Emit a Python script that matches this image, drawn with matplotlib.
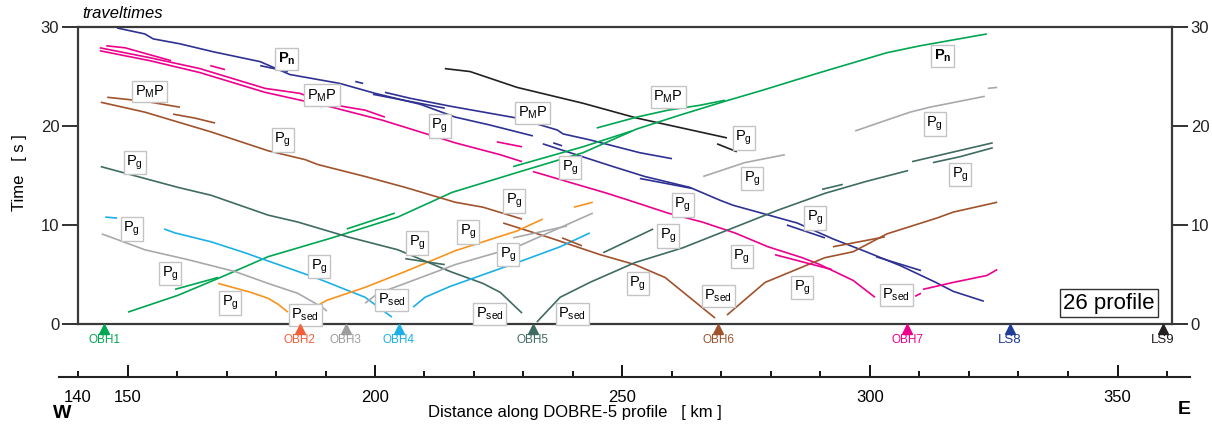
import matplotlib
matplotlib.use("Agg")
import matplotlib.pyplot as plt

plt.rcParams['font.family'] = ['Liberation Sans', 'DejaVu Sans']
plt.rcParams['mathtext.default'] = 'regular'

# ---- travel-time picks (distance km, time s) ----
ls8_pn = [(147.9, 29.9), (153.5, 29.3), (155.2, 28.8), (160.6, 28.3), (167.3, 27.5), (176.8, 26.5),
          (182.8, 25.2), (192.9, 24.3), (200.0, 23.3), (209.1, 22.2), (216.2, 20.9), (223.2, 20.1),
          (231.9, 19.0)]
ls8_pmp = [(202.0, 23.4), (207.1, 22.8), (215.2, 22.0), (228.7, 20.8), (236.8, 19.6), (238.0, 19.2),
           (243.4, 18.6), (253.5, 17.3), (260.0, 16.7)]
ls8_pg = [(233.9, 18.2), (238.8, 17.4), (248.1, 15.9), (254.5, 14.9), (263.6, 13.8), (269.7, 12.5),
          (272.3, 12.0), (285.3, 10.2), (292.5, 8.6), (299.2, 7.3), (306.1, 5.9), (313.3, 4.2),
          (316.8, 3.3), (323.0, 2.3)]
ls8_seg = [
    [(176.8, 26.1), (182.4, 25.5)],
    [(196.0, 24.5), (197.6, 24.3)],
    [(199.6, 23.2), (214.1, 21.8)],
    [(236.0, 18.3), (237.8, 18.0)],
    [(253.5, 14.7), (264.0, 13.7)],
    [(283.2, 10.0), (290.9, 8.7)],
    [(301.2, 6.8), (310.3, 5.4)],
]

ls9_pg = [(214.1, 25.8), (219.2, 25.5), (228.7, 23.9), (242.0, 22.3), (252.9, 20.8), (271.1, 18.8)]
ls9_seg = [(269.1, 18.2), (273.1, 17.4)]

obh1_main = [(150.1, 1.2), (160.2, 2.9), (168.3, 4.6), (178.4, 6.8), (191.3, 8.7), (204.6, 10.8),
             (215.6, 13.3), (228.7, 15.3), (242.0, 17.3), (252.9, 19.7), (261.6, 21.1), (270.7, 22.5),
             (278.2, 23.6), (289.9, 25.4), (303.4, 27.4), (310.1, 28.1), (323.6, 29.3)]
obh1_pmp = [(244.8, 19.8), (252.9, 20.9), (259.2, 21.6), (265.7, 22.1), (270.7, 22.6)]
obh1_seg = [
    [(159.6, 3.5), (168.3, 4.7)],
    [(194.3, 9.6), (204.0, 11.2)],
    [(227.9, 15.9), (242.0, 17.9), (251.9, 19.5)],
]

obh7_top = [(145.7, 28.1), (149.5, 27.9), (158.8, 26.6)]
obh7_pmp = [(144.4, 27.9), (154.5, 26.9), (164.6, 25.8), (177.8, 23.8), (184.8, 23.3), (190.9, 22.2),
            (198.0, 21.6), (202.0, 20.9)]
obh7_far = [(144.4, 27.6), (154.5, 26.6), (164.6, 25.4), (177.8, 23.4), (191.3, 21.9), (201.4, 20.6),
            (216.2, 18.3), (225.3, 17.1), (229.7, 16.4)]
obh7_west = [(231.9, 15.4), (239.4, 14.3), (246.9, 13.2), (252.5, 12.3), (259.2, 11.2), (266.1, 10.3),
             (272.7, 9.2), (279.4, 7.8), (286.3, 6.7), (289.9, 6.0), (296.6, 4.4), (301.0, 2.7)]
obh7_east = [(310.7, 3.5), (316.8, 4.2), (323.6, 4.9), (325.7, 5.5)]
obh7_seg = [
    [(166.7, 26.1), (169.7, 25.7)],
    [(224.6, 18.4), (229.7, 17.9)],
    [(280.8, 7.0), (292.3, 5.5)],
    [(309.1, 2.8), (310.3, 3.1)],
]

obh6_pmp = [(145.9, 22.9), (153.5, 22.5), (160.6, 21.9)]
obh6_pmp2 = [(159.2, 21.2), (163.6, 20.8), (167.7, 20.3)]
obh6_far = [(144.6, 22.4), (153.5, 21.4), (160.2, 20.4), (166.9, 19.4), (178.4, 17.5), (185.9, 16.6),
            (188.5, 16.1), (198.0, 14.9), (206.1, 13.8), (216.2, 12.3), (221.8, 11.8), (229.7, 10.6)]
obh6_west = [(225.9, 10.2), (235.4, 8.7), (245.5, 7.0), (252.5, 6.0), (258.6, 4.7), (268.7, 0.6)]
obh6_east = [(271.1, 0.9), (278.8, 4.2), (290.9, 6.7), (296.6, 7.3), (303.4, 9.1), (313.5, 10.7),
             (316.8, 11.3), (325.7, 12.3)]
obh6_seg = [
    [(237.8, 8.7), (241.8, 7.9)],
    [(292.5, 7.8), (303.0, 8.8)],
]

obh5_west = [(144.6, 15.9), (153.5, 14.7), (160.2, 13.8), (166.9, 13.0), (178.4, 11.0), (184.4, 10.3),
             (194.5, 8.8), (204.6, 7.5), (215.2, 5.3), (221.8, 4.1), (225.3, 3.2), (229.7, 1.1)]
obh5_east = [(232.7, 0.2), (237.4, 2.7), (243.4, 4.2), (252.5, 6.2), (262.2, 7.7), (272.3, 9.7),
             (281.4, 11.5), (290.9, 13.2), (299.2, 14.4), (307.7, 15.5)]
obh5_seg = [
    [(206.1, 6.6), (214.1, 6.0)],
    [(246.1, 7.2), (256.2, 9.6)],
    [(290.3, 13.6), (294.5, 14.1)],
    [(308.5, 16.4), (316.2, 17.3), (324.8, 18.3)],
    [(312.7, 16.3), (318.2, 16.9), (324.8, 17.8)],
]

obh4_west = [(157.4, 9.6), (159.6, 9.2), (166.9, 8.3), (173.7, 7.2), (178.2, 6.4), (187.9, 4.7),
             (198.0, 2.7), (203.4, 0.7)]
obh4_east = [(207.7, 1.7), (210.1, 2.7), (215.2, 3.8), (228.7, 6.2), (237.4, 7.8), (243.4, 9.2)]
obh4_seg = [(145.5, 10.8), (147.9, 10.7)]

obh3_west = [(144.8, 9.1), (148.1, 8.5), (153.5, 7.5), (162.2, 6.5), (171.7, 5.3), (178.4, 4.1),
             (184.4, 3.1), (189.3, 1.7), (190.3, 1.3)]
obh3_east = [(198.0, 2.1), (200.6, 3.1), (206.1, 4.1), (216.2, 6.0), (228.7, 7.8), (244.0, 11.2)]
obh3_seg = [
    [(227.9, 8.7), (238.8, 9.9)],
    [(266.3, 14.9), (274.7, 16.3), (282.8, 17.1)],
    [(297.0, 19.5), (303.4, 20.6), (308.1, 21.4), (312.1, 21.9), (323.2, 23.0)],
    [(323.8, 23.8), (325.7, 23.9)],
]

obh2_west = [(168.3, 4.1), (174.9, 3.2), (178.4, 2.6), (180.4, 2.0), (182.4, 1.2)]
obh2_east = [(188.5, 1.9), (190.3, 2.4), (198.0, 3.7), (206.1, 5.3), (216.2, 7.4), (228.7, 9.4),
             (233.9, 10.6)]
obh2_seg = [(240.2, 11.8), (244.0, 12.3)]

# ---- stations ----
station_names = ['OBH1', 'OBH2', 'OBH3', 'OBH4', 'OBH5', 'OBH6', 'OBH7', 'LS8', 'LS9']
station_km = [145.3, 184.8, 194.1, 204.8, 231.9, 269.3, 307.5, 328.3, 359.2]

# ---- phase labels (text, km, s) ----
phase_labels = [
    ('Pn', 182.2, 26.8), ('Pn', 314.7, 27.1),
    ('PMP', 154.5, 23.5), ('PMP', 189.3, 23.1), ('PMP', 231.9, 21.3), ('PMP', 259.2, 22.9),
    ('Pg', 181.4, 18.6), ('Pg', 151.5, 16.3), ('Pg', 213.1, 20.0), ('Pg', 239.4, 15.8),
    ('Pg', 274.5, 18.8), ('Pg', 276.2, 14.7), ('Pg', 313.1, 20.2), ('Pg', 318.2, 15.1),
    ('Pg', 150.9, 9.6), ('Pg', 158.6, 5.1), ('Pg', 170.7, 2.1), ('Pg', 188.7, 5.8),
    ('Pg', 208.5, 8.2), ('Pg', 218.8, 9.3), ('Pg', 228.1, 12.4), ('Pg', 226.9, 7.0),
    ('Pg', 259.2, 8.9), ('Pg', 262.2, 12.0), ('Pg', 253.1, 4.1), ('Pg', 274.1, 6.8),
    ('Pg', 288.9, 10.7), ('Pg', 286.3, 3.7),
    ('Psed', 185.9, 0.9), ('Psed', 203.4, 2.4), ('Psed', 223.2, 1.0), ('Psed', 239.8, 1.0),
    ('Psed', 269.3, 2.8), ('Psed', 305.3, 2.9),
]

NAVY = '#2e3192'
BLACK = '#231f20'
GREEN = '#00a651'
PINK = '#ec008c'
BROWN = '#a0522d'
TEAL = '#3f6b63'
CYAN = '#1cb0e6'
GRAY = '#a7a9ac'
ORANGE = '#f7941d'
station_colors = [GREEN, '#f2603a', '#9d9d9d', CYAN, TEAL, BROWN, PINK, '#1f3c99', BLACK]

label_text = {
    'Pn': r'P$_\mathregular{n}$',
    'Pg': r'P$_\mathregular{g}$',
    'Psed': r'P$_\mathregular{sed}$',
    'PMP': r'P$_\mathregular{M}$P',
}

fig = plt.figure(figsize=(12.12, 4.29), dpi=100)
ax = fig.add_axes([78 / 1212, 105 / 429, 1094 / 1212, 297 / 429])

curves = [
    (ls8_pn, NAVY), (ls8_pmp, NAVY), (ls8_pg, NAVY),
    (ls9_pg, BLACK), (ls9_seg, BLACK),
    (obh1_main, GREEN), (obh1_pmp, GREEN),
    (obh7_top, PINK), (obh7_pmp, PINK), (obh7_far, PINK), (obh7_west, PINK), (obh7_east, PINK),
    (obh6_pmp, BROWN), (obh6_pmp2, BROWN), (obh6_far, BROWN), (obh6_west, BROWN), (obh6_east, BROWN),
    (obh5_west, TEAL), (obh5_east, TEAL),
    (obh4_west, CYAN), (obh4_east, CYAN), (obh4_seg, CYAN),
    (obh3_west, GRAY), (obh3_east, GRAY),
    (obh2_west, ORANGE), (obh2_east, ORANGE), (obh2_seg, ORANGE),
]
for segs, col in [(ls8_seg, NAVY), (obh1_seg, GREEN), (obh7_seg, PINK), (obh6_seg, BROWN),
                  (obh5_seg, TEAL), (obh3_seg, GRAY)]:
    for s in segs:
        curves.append((s, col))

for pts, col in curves:
    xs, ys = zip(*pts)
    ax.plot(xs, ys, color=col, lw=1.2, solid_capstyle='butt', zorder=2)

for name, x, y in phase_labels:
    ax.text(x, y, label_text[name], fontsize=10.5, ha='center', va='center', zorder=5,
            fontweight='bold' if name == 'Pn' else 'normal',
            bbox=dict(boxstyle='square,pad=0.18', fc='white', ec='#c4c4c4', lw=1.0))

ax.text(348.3, 2.1, '26 profile', fontsize=16, ha='center', va='center', zorder=6,
        bbox=dict(boxstyle='square,pad=0.15', fc='white', ec='#333333', lw=1.0))

for name, km, col in zip(station_names, station_km, station_colors):
    ax.plot([km], [-0.5], marker='^', ms=7, color=col, mec=col, clip_on=False, zorder=6)
    ax.text(km, -1.65, name, color=col, fontsize=8.5 if name.startswith('OBH') else 9.5,
            ha='center', va='center', clip_on=False)

ax.set_xlim(140, 140 + 1094 / 4.95)
ax.set_ylim(0, 30)
ax.set_xticks([])
ax.set_yticks([0, 10, 20, 30])
ax.tick_params(axis='y', direction='out', length=11.5, width=1.3, pad=2, labelsize=12,
               right=True, labelright=True, colors='#222222')
for sp in ax.spines.values():
    sp.set_linewidth(1.6)
    sp.set_color('#3a3a3a')

# distance scale below the section
ax2 = fig.add_axes([59 / 1212, 52 / 429, 1131 / 1212, 0.001])
ax2.set_xlim(140 - 19 / 4.95, 140 + 1112 / 4.95)
for side in ['top', 'left', 'right']:
    ax2.spines[side].set_visible(False)
ax2.spines['bottom'].set_linewidth(1.5)
ax2.spines['bottom'].set_color('#222222')
ax2.set_yticks([])
ax2.set_xticks([150, 200, 250, 300, 350])
minor_km = [k for k in range(140, 361, 10) if k % 50 != 0]
ax2.set_xticks(minor_km, minor=True)
ax2.set_xticklabels(['140'] + [''] * (len(minor_km) - 1), minor=True)
ax2.tick_params(axis='x', which='major', direction='in', length=9, width=1.3, pad=9, labelsize=12)
ax2.tick_params(axis='x', which='minor', direction='in', length=4.5, width=1.3, pad=9, labelsize=12)
ax2.patch.set_visible(False)

fig.text(20 / 1212, 1 - 173 / 429, 'Time   [ s ]', rotation=90, ha='center', va='center', fontsize=12)
fig.text(82 / 1212, 1 - 14 / 429, 'traveltimes', style='italic', ha='left', va='center', fontsize=12)
fig.text(575 / 1212, 1 - 413 / 429, 'Distance along DOBRE-5 profile   [ km ]', ha='center', va='center',
         fontsize=12)
fig.text(62 / 1212, 1 - 414 / 429, 'W', fontweight='bold', ha='center', va='center', fontsize=14)
fig.text(1184 / 1212, 1 - 410 / 429, 'E', fontweight='bold', ha='center', va='center', fontsize=14)

fig.savefig('out.png', dpi=100)
